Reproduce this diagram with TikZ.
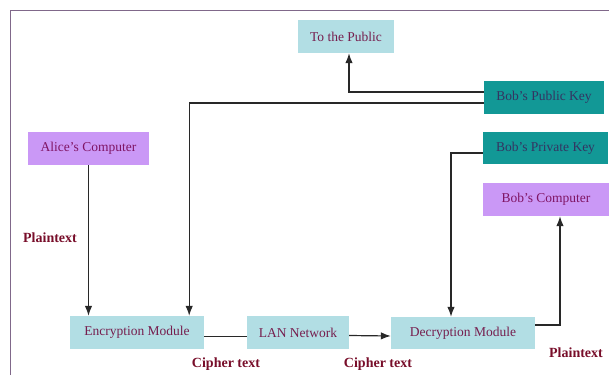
\documentclass[tikz,border=0pt]{standalone}
\usepackage{fontspec}
\setmainfont{Liberation Serif}
\usetikzlibrary{arrows.meta}
\definecolor{boxblue}{RGB}{178,222,228}
\definecolor{keyteal}{RGB}{18,152,150}
\definecolor{pcpurple}{RGB}{202,152,246}
\definecolor{boxtext}{RGB}{118,30,78}
\definecolor{keytext}{RGB}{52,52,98}
\definecolor{pctext}{RGB}{128,20,100}
\definecolor{lbltext}{RGB}{120,14,42}
\definecolor{framepurple}{RGB}{128,104,138}
\definecolor{linegray}{RGB}{40,40,40}

\begin{document}
\begin{tikzpicture}[x=1pt,y=-1pt,
        box/.style={minimum height=33pt,inner sep=0pt,
            font=\fontsize{13.5}{16}\selectfont},
        bluebox/.style={box,fill=boxblue,text=boxtext},
        keybox/.style={box,fill=keyteal,text=keytext},
        pcbox/.style={box,fill=pcpurple,text=pctext},
        lbl/.style={font=\bfseries\fontsize{14}{16}\selectfont,text=lbltext},
        link/.style={line width=1.2pt,draw=linegray},
        >={Latex[length=10pt,width=7.5pt]}]
        \useasboundingbox (0,0) rectangle (609,375);
        \draw [line width=1.2pt,draw=framepurple] (10.5,375) -- (10.5,10.5) -- (609,10.5);

        \node [bluebox,minimum width=96pt] (public) at (346,36.5) {To the Public};
        \node [keybox,minimum width=120pt] (pubkey) at (544,97.5) {Bob's Public Key};
        \node [pcbox,minimum width=121pt] (alice) at (88.5,148.5) {Alice's Computer};
        \node [keybox,minimum width=125pt,minimum height=32pt] (privkey) at (545.5,148) {Bob's Private Key};
        \node [pcbox,minimum width=126pt] (bobpc) at (546,199.5) {Bob's Computer};
        \node [bluebox,minimum width=134pt] (enc) at (137,332.5) {Encryption Module};
        \node [bluebox,minimum width=102pt] (lan) at (298,332.5) {LAN Network};
        \node [bluebox,minimum width=144pt,minimum height=32pt] (dec) at (463,333) {Decryption Module};

        \node [lbl] (plainin) at (50,238) {Plaintext};
        \node [lbl] (cipherone) at (226,364) {Cipher text};
        \node [lbl] (ciphertwo) at (378,364) {Cipher text};
        \node [lbl] (plainout) at (576,353) {Plaintext};

        \draw [link,->] ([yshift=5.5pt]pubkey.west) -| ([xshift=3pt]public.south);
        \draw [link,->] ([yshift=-5.5pt]pubkey.west) -| ([xshift=-15pt]enc.north east);
        \draw [link,->] (alice.south) -- (alice.south |- enc.north);
        \draw [link,->] ([yshift=-5pt]privkey.west) -| ([xshift=-12pt]dec.north);
        \draw [link] ([yshift=-4pt]enc.east) -- ([yshift=-4pt]lan.west);
        \draw [link,->] ([yshift=-3pt]lan.east) -- ([yshift=-3pt]dec.west);
        \draw [link,->] ([yshift=8pt]dec.east) -| ([xshift=14pt]bobpc.south);
\end{tikzpicture}
\end{document}
